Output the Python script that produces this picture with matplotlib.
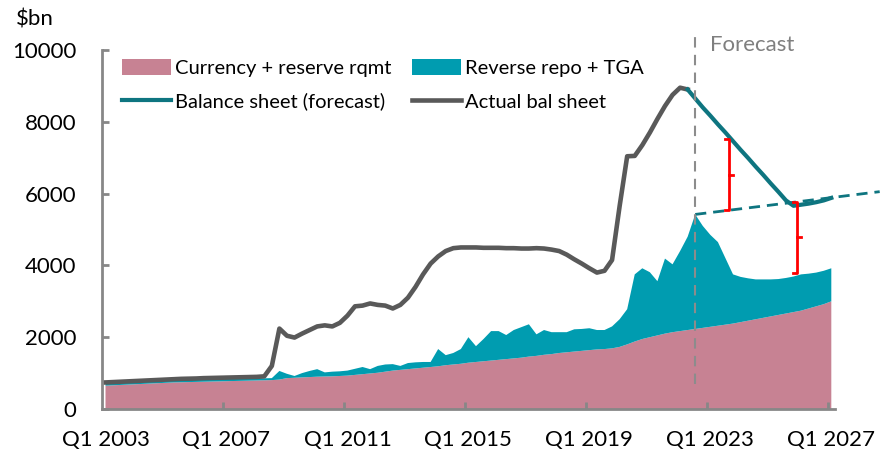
import numpy as np
import matplotlib.pyplot as plt

plt.rcParams['font.family'] = ['Lato', 'DejaVu Sans']

# quarterly categories Q1 2003 .. Q1 2027
quarters = [f"Q{q} {y}" for y in range(2003, 2028) for q in range(1, 5)][:97]

# currency + reserve requirement ($bn)
currency = [650, 660, 670, 680, 690, 700, 710, 720, 730, 740, 745, 750,
            755, 760, 765, 770, 775, 780, 785, 790, 795, 800, 805, 820,
            860, 870, 880, 890, 900, 905, 910, 920, 930, 950, 970, 990,
            1010, 1040, 1070, 1090, 1110, 1130, 1150, 1170, 1190, 1220, 1240, 1260,
            1290, 1310, 1330, 1350, 1370, 1390, 1410, 1430, 1460, 1480, 1510, 1530,
            1560, 1580, 1600, 1620, 1640, 1660, 1670, 1690, 1730, 1800, 1880, 1950,
            2000, 2050, 2100, 2140, 2170, 2200, 2230, 2260, 2290, 2320, 2350, 2380,
            2420, 2460, 2500, 2540, 2580, 2620, 2660, 2700, 2740, 2800, 2860, 2920,
            3000]

# reverse repo + TGA ($bn)
rrp_tga = [70, 70, 70, 70, 70, 70, 70, 70, 70, 65, 65, 65,
           65, 65, 65, 65, 65, 65, 65, 65, 65, 55, 55, 240,
           120, 50, 120, 170, 210, 115, 130, 130, 140, 170, 200, 120,
           190, 200, 180, 110, 170, 170, 160, 140, 480, 280, 320, 410,
           710, 440, 620, 820, 800, 670, 790, 850, 900, 600, 690, 610,
           580, 560, 620, 610, 610, 540, 530, 610, 770, 980, 1870, 1970,
           1810, 1510, 2090, 1890, 2230, 2600, 3190, 2840, 2560, 2330, 1850, 1370,
           1260, 1180, 1110, 1070, 1030, 1000, 990, 990, 1010, 970, 940, 930,
           920]

# actual balance sheet, Q1 2003 .. Q2 2022
actual = [740, 750, 760, 770, 780, 790, 800, 810, 820, 830, 840, 845,
          850, 860, 865, 870, 875, 880, 885, 890, 895, 910, 1200, 2240,
          2040, 1990, 2100, 2200, 2300, 2330, 2300, 2400, 2600, 2860, 2880, 2940,
          2900, 2880, 2800, 2900, 3100, 3400, 3750, 4050, 4250, 4400, 4480, 4500,
          4500, 4500, 4490, 4490, 4490, 4480, 4480, 4470, 4470, 4480, 4470, 4440,
          4400, 4300, 4170, 4050, 3920, 3800, 3850, 4150, 5650, 7040, 7050, 7350,
          7700, 8080, 8440, 8750, 8950, 8900]

# balance sheet forecast, Q2 2022 .. Q1 2027
forecast = [8900, 8650, 8400, 8170, 7930, 7700, 7460, 7220, 6990, 6750,
            6520, 6280, 6050, 5810, 5660, 5690, 5720, 5760, 5810, 5880]

fc_start = 'Q3 2022'
floor_growth = 26   # $bn per quarter, dashed floor line
gap_quarters = ['Q3 2023', 'Q4 2025']

pink = '#C78293'
teal = '#009CB0'
teal_line = '#0E7580'
grey_line = '#595959'
axis_grey = '#878787'

x = np.arange(len(quarters))
total = np.array(currency) + np.array(rrp_tga)
i0 = quarters.index(fc_start)

fig = plt.figure(figsize=(8.9, 4.55), dpi=100)
ax = fig.add_axes([0.1143, 0.1011, 0.8240, 0.7890])

ax.stackplot(x, currency, rrp_tga, colors=[pink, teal], linewidth=0,
             labels=['Currency + reserve rqmt', 'Reverse repo + TGA'])
ax.plot(x[:len(actual)], actual, color=grey_line, lw=3.3,
        solid_joinstyle='round', label='Actual bal sheet')
ax.plot(x[len(actual) - 1:], forecast, color=teal_line, lw=3,
        solid_joinstyle='round', label='Balance sheet (forecast)')

# floor line from the liabilities peak
xf = np.array([i0, i0 + 24.4])
ax.plot(xf, total[i0] + floor_growth * (xf - i0), color=teal_line, lw=2,
        ls=(0, (4, 2.5)), clip_on=False)

# forecast divider
ax.axvline(i0, ymin=0.07, ymax=1.055, color='#8C8C8C', lw=1.5,
           ls=(0, (5, 3.5)), clip_on=False)
ax.text(i0 + 1.9, 10150, 'Forecast', color='#7F7F7F', fontsize=16,
        va='center', ha='left')

# red braces showing the gaps
xfc = x[len(actual) - 1:]
for k, q in enumerate(gap_quarters):
    xb = quarters.index(q) + 0.5
    floor = total[i0] + floor_growth * (xb - i0)
    if k == 0:
        lo, hi = floor, np.interp(xb, xfc, forecast) - 60
    else:
        lo, hi = np.interp(xb, x, total) + 80, floor
    w = 0.55
    ax.plot([xb - w, xb, xb, xb - w], [hi, hi, lo, lo], color='red', lw=2)
    ax.plot([xb, xb + 0.45], [(hi + lo) / 2] * 2, color='red', lw=2)

ax.set_xlim(-0.5, 96.5)
ax.set_ylim(0, 10000)
ax.set_yticks(range(0, 10001, 2000))
ax.set_xticks(x[::16])
ax.set_xticklabels(quarters[::16])
ax.set_xticks(np.arange(15.5, 97, 16), minor=True)
ax.tick_params(axis='x', which='major', length=0, pad=15, labelsize=16)
ax.tick_params(axis='x', which='minor', direction='in', length=5, width=2,
               color=axis_grey)
ax.tick_params(axis='y', direction='in', length=5, width=2, color=axis_grey,
               pad=18, labelsize=16)

for s in ['top', 'right']:
    ax.spines[s].set_visible(False)
for s in ['left', 'bottom']:
    ax.spines[s].set_color(axis_grey)
    ax.spines[s].set_linewidth(2)

fig.text(0.018, 0.957, '$bn', fontsize=16, va='center', ha='left')

h, l = ax.get_legend_handles_labels()
order = [0, 3, 1, 2]
ax.legend([h[i] for i in order], [l[i] for i in order], ncol=2,
          loc='upper left', bbox_to_anchor=(0.022, 0.985), frameon=False,
          fontsize=14.5, handlelength=2.45, handleheight=0.85,
          handletextpad=0.2, labelspacing=0.75, columnspacing=1.0,
          borderaxespad=0, borderpad=0.2)

fig.savefig('out.png', dpi=100)
